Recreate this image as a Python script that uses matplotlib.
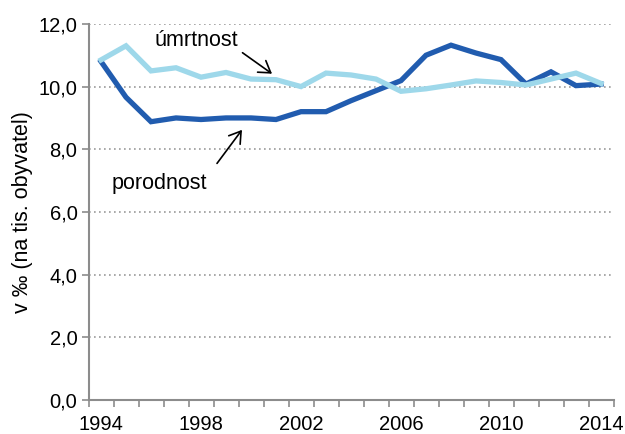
import matplotlib
matplotlib.use("Agg")
import matplotlib.pyplot as plt

plt.rcParams["font.family"] = ["Liberation Sans", "DejaVu Sans"]

years = list(range(1994, 2015))
porodnost = [10.8, 9.66, 8.88, 9.0, 8.95, 9.0, 9.0, 8.95, 9.2, 9.2, 9.55,
             9.87, 10.19, 11.0, 11.32, 11.07, 10.86, 10.08, 10.47, 10.03, 10.08]
umrtnost = [10.85, 11.3, 10.5, 10.6, 10.3, 10.45, 10.24, 10.22, 10.0, 10.43, 10.37,
            10.24, 9.85, 9.93, 10.05, 10.18, 10.13, 10.05, 10.24, 10.43, 10.1]
tick_years = [1994, 1998, 2002, 2006, 2010, 2014]

DARK = "#215CAF"
LIGHT = "#9ED8EA"
AXIS = "#8C8C8C"

fig = plt.figure(figsize=(6.25, 4.34), dpi=100)
ax = fig.add_axes([0.1416, 0.078, 0.84, 0.867])

x = list(range(len(years)))
ax.plot(x, porodnost, color=DARK, linewidth=3.8, solid_joinstyle="miter", zorder=3)
ax.plot(x, umrtnost, color=LIGHT, linewidth=3.8, solid_joinstyle="miter", zorder=3)

ax.set_xlim(-0.5, len(years) - 0.5)
ax.set_ylim(0, 12)
ax.set_yticks([0, 2, 4, 6, 8, 10, 12])
ax.set_yticklabels([f"{v:.1f}".replace(".", ",") for v in range(0, 13, 2)], fontsize=14.5)

ax.set_xticks([years.index(y) for y in tick_years])
ax.set_xticklabels([str(y) for y in tick_years], fontsize=14.5)
ax.tick_params(axis="x", length=0, pad=11)
ax.set_xticks([i - 0.5 for i in range(len(years) + 1)], minor=True)
ax.tick_params(axis="x", which="minor", length=5, color=AXIS, width=1.2)
ax.tick_params(axis="y", length=5, color=AXIS, width=1.2, pad=3)

ax.yaxis.grid(True, linestyle=(0, (1, 2)), color="#9A9A9A", linewidth=1.2)
ax.set_axisbelow(True)
for s in ["top", "right"]:
    ax.spines[s].set_visible(False)
for s in ["left", "bottom"]:
    ax.spines[s].set_color(AXIS)
    ax.spines[s].set_linewidth(1.5)

ax.set_ylabel("v \u2030 (na tis. obyvatel)", fontsize=15.5, labelpad=4)

# open arrowheads like the original
arrow = dict(arrowstyle="->,head_length=0.5,head_width=0.32", color="black",
             lw=1.2, shrinkA=0, shrinkB=0, mutation_scale=16)
ax.text(2.16, 11.46, "úmrtnost", fontsize=15.5, ha="left", va="center")
ax.annotate("", xy=(6.84, 10.41), xytext=(5.66, 11.08), arrowprops=arrow)
ax.text(0.44, 6.91, "porodnost", fontsize=15.5, ha="left", va="center")
ax.annotate("", xy=(5.64, 8.62), xytext=(4.64, 7.55), arrowprops=arrow)

fig.savefig("out.png", dpi=100)
